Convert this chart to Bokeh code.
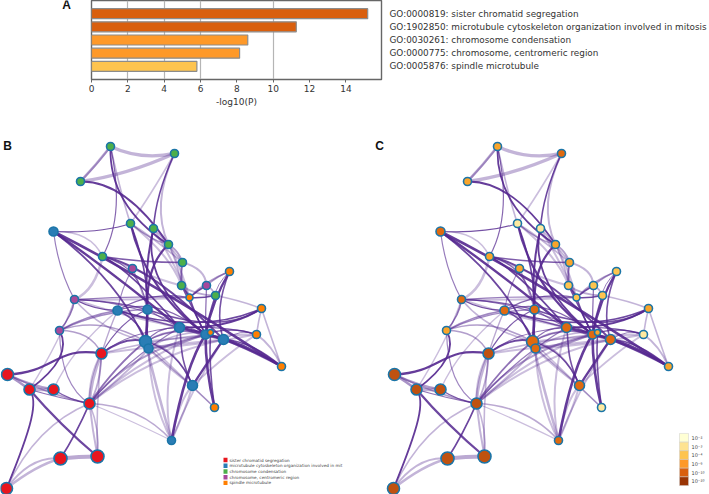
from bokeh.plotting import figure
from bokeh.layouts import column, row
from bokeh.models import FactorRange, Range1d, FixedTicker
from bokeh.embed import file_html
from bokeh.resources import INLINE
from bokeh.core.properties import value

# ---- panel A ----
go_terms = ["GO:0000819: sister chromatid segregation",
            "GO:1902850: microtubule cytoskeleton organization involved in mitosis",
            "GO:0030261: chromosome condensation",
            "GO:0000775: chromosome, centromeric region",
            "GO:0005876: spindle microtubule"]
log_p = [15.2, 11.27, 8.6, 8.15, 5.8]
bar_colors = ["#D95F0E", "#D95F0E", "#FE9929", "#FE9929", "#FEC44F"]
x_ticks = [0, 2, 4, 6, 8, 10, 12, 14]
grid_ticks = [2, 4, 6, 10]

# ---- network: node positions ----
node_x = [110,174,80,53,130,153,168,102,132,182,229,181,206,189,215,74,117,147,261,179,205,210,223,256,145,148,101,281,59,7,29,53,89,192,214,171,60,97,6]
node_y = [146,153,181,231,223,228,244,256,268,262,271,285,285,297,295,299,310,309,308,327,334,332,339,334,341,348,353,366,330,374,389,389,403,385,407,440,458,456,488]
node_size = [8,8,8,9,8,8,8,8,8,8,8,8,8,7,8,8,9,9,8,10,9,6,10,8,12,9,11,8,8,12,11,11,11,10,8,8,13,13,12]
RED, BLU, GRN, PUR, ORG = "#E8161E", "#2A7DB5", "#4DAF4A", "#A8489A", "#FF7F00"
cluster_color = [GRN,GRN,GRN,BLU,GRN,GRN,GRN,GRN,PUR,GRN,ORG,GRN,PUR,ORG,GRN,PUR,BLU,BLU,ORG,BLU,BLU,ORG,BLU,ORG,BLU,BLU,RED,ORG,PUR,RED,RED,RED,RED,BLU,ORG,BLU,RED,RED,RED]
L1, L2, L3, L4, L5 = "#FEE9A0", "#FEC44F", "#F9A52B", "#DF6A10", "#BF5210"
pvalue_color = [L3,L4,L3,L4,L1,L1,L3,L3,L3,L3,L2,L2,L2,L2,L2,L4,L4,L4,L3,L4,L4,L3,L4,L1,L4,L4,L5,L3,L3,L5,L5,L5,L5,L4,L1,L4,L5,L5,L5]

# edges: from, to, control x, control y, width, alpha (node numbers start at 1)
edges = [
 (3,7,125,180,1.8,.9),(1,7,108,205,1.8,.9),(2,6,155,195,1.6,.85),(8,1,125,215,1.2,.7),(4,5,100,233,1.2,.8),
 (4,20,110,270,2.4,.9),(4,28,150,280,2.6,.9),(4,25,118,280,1.8,.85),(4,16,58,270,1.2,.6),
 (5,21,145,290,2.2,.9),(5,18,148,270,1.6,.85),(6,18,143,270,2,.9),(6,21,140,280,1.8,.9),(7,18,145,265,2.2,.9),
 (8,23,150,265,2,.85),(8,10,140,262,1.4,.75),(8,20,130,270,1.6,.85),(8,18,140,265,1.2,.7),
 (11,21,212,300,2.4,.9),(11,15,215,285,1,.6),(11,23,213,310,1.6,.8),(11,13,218,275,1.6,.45),(11,14,205,280,1.6,.45),
 (19,20,230,328,2,.9),(19,17,200,335,1.6,.85),(19,18,220,335,1.6,.8),
 (18,25,147,325,2.6,.9),(18,26,145,325,2,.85),(17,25,140,320,1.6,.8),
 (16,17,95,310,1.3,.8),(16,18,110,300,1.3,.75),(16,21,130,300,1.2,.6),(14,16,130,295,1.2,.6),
 (17,21,160,295,1.4,.7),(17,14,150,290,1.2,.7),(14,15,200,298,1.6,.85),(12,14,185,290,1.6,.85),(13,14,197,290,1.6,.85),
 (14,21,195,315,1.6,.85),(15,21,208,315,1.6,.85),(13,21,205,310,1.2,.7),(12,21,193,310,1.6,.8),
 (21,28,240,340,2.4,.9),(20,28,225,335,2,.9),(23,28,250,340,1.6,.8),(20,24,225,325,1.2,.7),(21,24,230,325,1.6,.8),(23,24,240,328,1,.6),
 (35,21,205,370,2.6,.9),(35,22,208,365,1.6,.8),(36,21,185,365,2.6,.9),(34,23,215,350,2.2,.9),(34,25,178,350,1.6,.8),
 (25,27,125,335,1.8,.85),(27,20,130,330,1.2,.65),(27,17,110,325,1.4,.4),(27,18,120,320,1.3,.75),
 (29,27,90,330,1.4,.45),(29,33,60,385,1.2,.55),(30,31,18,381,2.6,.5),(30,32,30,385,2.4,.45),(31,32,41,389,3.4,.35),(30,33,50,395,1.4,.45),
 (31,38,60,425,2.2,.85),(31,33,60,398,1.3,.65),(32,33,70,400,1.3,.75),(37,33,75,435,1.8,.85),(33,27,100,385,1.8,.4),
 (39,37,35,465,2.4,.35),(39,37,30,455,2,.35),(39,33,35,425,1.6,.35),(37,38,78,456,3.8,.4),(33,38,92,430,2,.35),(33,38,100,430,1.6,.35),
 (27,38,95,410,1.6,.35),(27,33,90,380,3,.35),(27,33,88,375,2,.3),
 (33,25,115,365,1.8,.65),(33,20,125,360,1.4,.6),(33,36,140,405,1.6,.4),(33,26,135,365,2,.35),(33,21,130,350,2,.45),(33,23,150,355,2,.3),
 (36,25,155,385,2.6,.35),(36,26,150,400,2,.3),(36,34,185,410,2,.3),(36,34,178,400,2,.3),(36,23,190,390,1.6,.3),(35,26,175,370,1.6,.35),
 (28,19,270,335,1.6,.35),(19,24,258,320,1.6,.35),(24,28,272,345,2,.35),(28,23,240,345,2,.35),(15,19,240,300,1.6,.35),
 (10,13,205,268,2,.35),(10,12,180,272,1.8,.55),(10,14,178,280,1.6,.35),(10,7,178,250,2,.45),(7,6,150,235,1.6,.45),(5,7,150,240,1.6,.45),(5,10,150,235,1.6,.35),(6,10,165,240,1.6,.35),
 (2,5,150,195,1.6,.3),(1,2,140,160,3.4,.35),(3,2,125,175,3.4,.35),(3,1,95,165,2.6,.35),(3,1,100,160,2,.35),(2,7,150,205,2,.35),(1,5,122,200,1.6,.35),
 (4,8,90,230,1.6,.3),(8,16,95,290,2.6,.3),(9,17,120,290,1.2,.55),(9,18,140,285,1.4,.45),
 (29,16,72,315,1.6,.65),(29,17,85,315,1.6,.55),(29,18,100,310,1.3,.55),(29,25,100,315,1.6,.45),(16,25,100,330,1.6,.35),
 (20,23,200,335,1.6,.65),(25,20,160,325,1.3,.65),(25,21,175,325,1.3,.55),(25,23,180,320,1.6,.45),(26,22,175,330,1.6,.35),(17,20,150,320,1.3,.65),(18,20,165,320,1.3,.65),(25,34,175,345,1.6,.35),
 (16,14,130,300,2,.3),(16,20,120,315,2,.3),(17,23,170,325,2,.3),(26,24,200,345,2,.3),(26,21,175,345,2,.35),(25,24,200,335,2,.3),(34,24,230,350,2,.3),(34,26,170,370,2,.3),
 (8,9,118,262,1.6,.35),(9,12,160,280,2,.3),(5,12,170,255,2,.3),(6,14,175,265,2,.3),(7,14,180,265,2,.3),(7,12,178,265,1.6,.35),(13,15,212,288,1.6,.4),(12,15,195,295,1.8,.4),
 (27,23,160,345,2,.3),(27,21,150,340,1.6,.35),(33,22,150,350,2,.3),(32,17,70,350,1.4,.3),(31,16,60,340,1.4,.3),(36,20,160,390,2,.3),(35,25,170,365,1.6,.3),(33,36,120,415,1.2,.3),
]
# edges with an S-shaped route: from, to, c1x, c1y, c2x, c2y, width, alpha
s_edges = [
 (30,27,55,372,55,345,2.2,.9),(31,29,55,370,70,350,1.8,.9),(39,31,32,425,38,400,1.8,.9),(34,20,178,355,182,345,1.6,.8),
]

legend_names = ["sister chromatid segregation",
                "microtubule cytoskeleton organization involved in mit",
                "chromosome condensation",
                "chromosome, centromeric region",
                "spindle microtubule"]
legend_colors = [RED, BLU, GRN, PUR, ORG]
legend_y = [459.5, 465.3, 471, 476.7, 482.4]
scale_labels = ["10⁻²", "10⁻³", "10⁻⁴", "10⁻⁶", "10⁻¹⁰", "10⁻²⁰"]
scale_colors = ["#FFFFD4", "#FEE391", "#FEC44F", "#FE9929", "#D95F0E", "#993404"]
scale_y = [437.3, 446, 454.6, 463.3, 472, 480.7]

# ---------- panel letter A, in its own narrow figure left of the bars ----------
pl = figure(width=81, height=130, output_backend="svg", toolbar_location=None,
            x_range=Range1d(0, 81), y_range=Range1d(130, 0), min_border=0, outline_line_color=None)
pl.axis.visible = False
pl.grid.visible = False
pl.text([66], [7], text=["A"], text_font=value("Liberation Sans"), text_font_style="bold",
        text_font_size="12px", text_color="#111111", text_align="center", text_baseline="middle")

# ---------- bar chart ----------
pa = figure(width=628, height=130, output_backend="svg", toolbar_location=None,
            y_range=FactorRange(factors=go_terms[::-1], range_padding=0.2),
            x_range=Range1d(0, 15.96), y_axis_location="right",
            min_border_left=10, min_border_right=322, min_border_top=0, min_border_bottom=51)
pa.hbar(y=go_terms, right=log_p, left=0, height=0.76, fill_color=bar_colors, line_color="#8C8C8C", line_width=1.2)
pa.xaxis.ticker = FixedTicker(ticks=x_ticks)
pa.xaxis.axis_label = "-log10(P)"
pa.xaxis.axis_label_text_font = "DejaVu Sans"
pa.xaxis.axis_label_text_font_style = "normal"
pa.xaxis.axis_label_text_font_size = "9px"
pa.xaxis.axis_label_text_color = "#333333"
pa.xaxis.axis_label_standoff = 2
pa.xaxis.major_label_text_font = "DejaVu Sans"
pa.xaxis.major_label_text_font_size = "9px"
pa.xaxis.major_label_text_color = "#333333"
pa.xaxis.major_label_standoff = 2
pa.xaxis.major_tick_in = 0
pa.xaxis.major_tick_out = 3
pa.xaxis.minor_tick_line_color = None
pa.xaxis.axis_line_color = "#666666"
pa.xaxis.major_tick_line_color = "#666666"
pa.yaxis.major_tick_line_color = None
pa.yaxis.axis_line_color = None
pa.yaxis.major_label_text_font = "DejaVu Sans"
pa.yaxis.major_label_text_font_size = "8.85px"
pa.yaxis.major_label_text_color = "#333333"
pa.yaxis.major_label_standoff = 2
pa.ygrid.grid_line_color = None
pa.xgrid.ticker = FixedTicker(ticks=grid_ticks)
pa.xgrid.grid_line_color = "#B5B5B5"
pa.xgrid.grid_line_width = 1.2
pa.outline_line_color = "#666666"
pa.outline_line_width = 1.4

# ---------- networks ----------
def network(x0, width, colors, letter, letter_x):
    p = figure(width=width, height=364, output_backend="svg", toolbar_location=None,
               x_range=Range1d(x0, x0 + width), y_range=Range1d(494, 130),
               min_border=0, outline_line_color=None)
    p.axis.visible = False
    p.grid.visible = False
    dx = 0 if x0 == 0 else 387
    for a, b, cx, cy, w, al in sorted(edges, key=lambda e: e[5]):
        p.quadratic(x0=node_x[a-1]+dx, y0=node_y[a-1], x1=node_x[b-1]+dx, y1=node_y[b-1],
                    cx=cx+dx, cy=cy, line_color="#54278F", line_width=w, line_alpha=al)
    for a, b, c1x, c1y, c2x, c2y, w, al in s_edges:
        p.bezier(x0=node_x[a-1]+dx, y0=node_y[a-1], x1=node_x[b-1]+dx, y1=node_y[b-1],
                 cx0=c1x+dx, cy0=c1y, cx1=c2x+dx, cy1=c2y, line_color="#54278F", line_width=w, line_alpha=al)
    p.scatter([x+dx for x in node_x], node_y, size=node_size, fill_color=colors,
              line_color="#1B75A8", line_width=1.6)
    p.text([letter_x], [145], text=[letter], text_font=value("Liberation Sans"), text_font_style="bold",
           text_font_size="12px", text_color="#111111", text_align="center", text_baseline="middle")
    return p

pb = network(0, 350, cluster_color, "B", 7)
pb.rect([225]*5, legend_y, width=4, height=4.4, fill_color=legend_colors, line_color=None)
pb.text([229]*5, legend_y, text=legend_names, text_font=value("DejaVu Sans"), text_font_size="4.2px",
        text_color="#444444", text_baseline="middle")

pc = network(350, 359, pvalue_color, "C", 379)
pc.rect([683.5]*6, scale_y, width=9, height=8.7, fill_color=scale_colors, line_color="#CCCCCC", line_width=0.5)
pc.text([691]*6, scale_y, text=scale_labels, text_font=value("DejaVu Sans"), text_font_size="5px",
        text_color="#444444", text_baseline="middle")

page = column(row(pl, pa, spacing=0), row(pb, pc, spacing=0), spacing=0, margin=0)
open("out.html", "w").write(file_html(page, INLINE))
